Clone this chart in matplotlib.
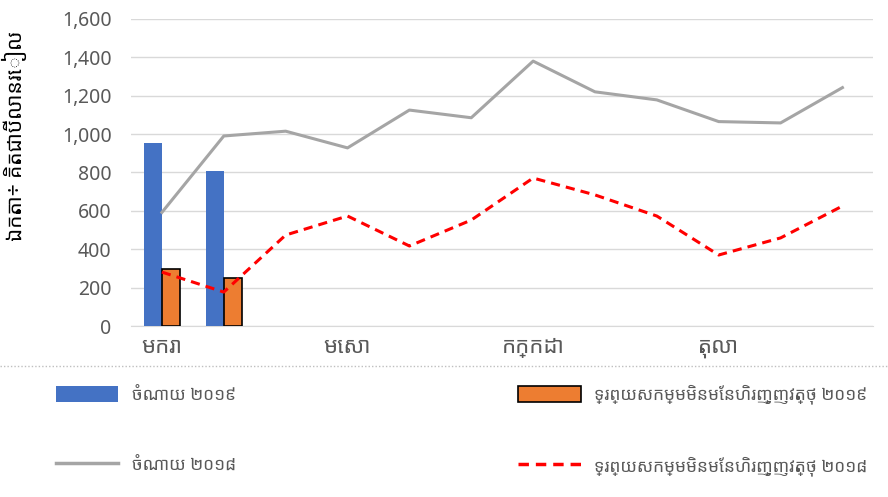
import matplotlib
matplotlib.use("Agg")
import matplotlib.pyplot as plt
from matplotlib.lines import Line2D
from matplotlib.patches import Patch
import numpy as np

plt.rcParams['font.family'] = ['Noto Sans Khmer', 'Khmer OS', 'Khmer OS System', 'Hanuman',
                               'Noto Serif Khmer', 'DejaVu Sans']

# data (billion riel)
months = ['មករា', 'កុម្ភៈ', 'មីនា', 'មេសា', 'ឧសភា', 'មិថុនា',
          'កក្កដា', 'សីហា', 'កញ្ញា', 'តុលា', 'វិច្ឆិកា', 'ធ្នូ']
tick_labels = ['មករា', '', '', 'មេសា', '', '', 'កក្កដា', '', '', 'តុលា', '', '']
spend_2019 = [955, 810]
asset_2019 = [297, 250]
spend_2018 = [592, 990, 1015, 928, 1125, 1085, 1380, 1220, 1178, 1065, 1058, 1242]
asset_2018 = [281, 177, 474, 573, 417, 552, 771, 683, 573, 370, 459, 625]

lbl_spend_19 = 'ចំណាយ ២០១៩'
lbl_asset_19 = 'ទ្រព្យសកម្មមិនមែនហិរញ្ញវត្ថុ ២០១៩'
lbl_spend_18 = 'ចំណាយ ២០១៨'
lbl_asset_18 = 'ទ្រព្យសកម្មមិនមែនហិរញ្ញវត្ថុ ២០១៨'

blue = '#4472C4'
orange = '#ED7D31'
gray = '#A5A5A5'
red = '#FF0000'
txt = '#595959'

fig = plt.figure(figsize=(8.88, 4.97), dpi=100)
ax = fig.add_axes([131 / 888, 0.344, 0.836, 0.618])

x = np.arange(len(months))
w = 0.29
x19 = x[:len(spend_2019)]
ax.bar(x19 - w / 2, spend_2019, w, color=blue, zorder=3)
ax.bar(x19 + w / 2, asset_2019, w, color=orange, edgecolor='black', linewidth=1.2, zorder=3)
ax.plot(x, spend_2018, color=gray, linewidth=2.2, zorder=4)
ax.plot(x, asset_2018, color=red, linewidth=2.2, dashes=(3, 2), zorder=4)

ax.set_xlim(-0.5, 11.5)
ax.set_ylim(0, 1600)
ax.set_yticks(range(0, 1601, 200))
ax.set_yticklabels([f'{v:,}' for v in range(0, 1601, 200)], fontsize=14, color=txt)
ax.set_xticks(x)
ax.set_xticklabels(tick_labels, fontsize=16, color=txt)
ax.tick_params(axis='x', length=0, pad=8)
ax.tick_params(axis='y', length=0, pad=14)
ax.grid(axis='y', color='#D9D9D9', linewidth=1, zorder=0)
for s in ['top', 'right', 'left']:
    ax.spines[s].set_visible(False)
ax.spines['bottom'].set_color('#D9D9D9')
ax.set_ylabel('ឯកតា÷ គិតជាប៊ីលានរៀល', fontsize=15, color='black', labelpad=10)
ax.yaxis.set_label_coords(-0.14, 0.62)

# dotted separator above legend
fig.add_artist(Line2D([0, 1], [1 - 366 / 497, 1 - 366 / 497], transform=fig.transFigure,
                      color='#BFBFBF', linestyle=(0, (1, 1.5)), linewidth=1))

handles = [Patch(facecolor=blue, edgecolor='none'),
           Line2D([], [], color=gray, linewidth=2.5),
           Patch(facecolor=orange, edgecolor='black', linewidth=1.2),
           Line2D([], [], color=red, linewidth=2.5, dashes=(3, 2))]
labels = [lbl_spend_19, lbl_spend_18, lbl_asset_19, lbl_asset_18]
fig.legend(handles, labels, ncol=2, loc='upper left', frameon=False,
           bbox_to_anchor=(0.055, 0.24, 0.93, 0.0), mode='expand',
           fontsize=12.5, labelcolor=txt, handlelength=3.6, handleheight=1.1,
           labelspacing=3.0, borderaxespad=0)

fig.savefig('out.png', dpi=100)
